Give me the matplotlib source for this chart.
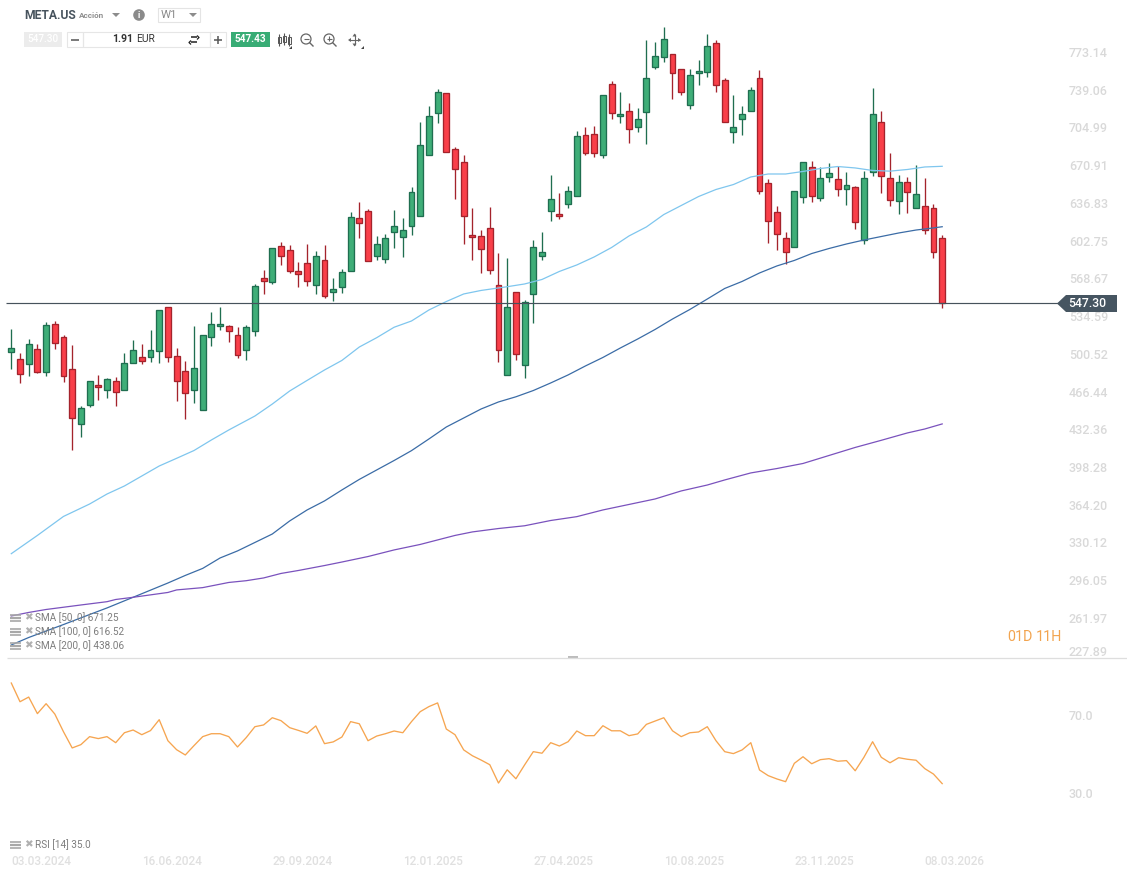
#!/usr/bin/env python3

# ========================================================================
#
# Imports
#
# ========================================================================
import matplotlib as mpl
mpl.use('Agg')
import matplotlib.pyplot as plt
import matplotlib.transforms as mtrans
from matplotlib.patches import Circle, Polygon, Rectangle
import numpy as np

# ========================================================================
#
# Data
#
# ========================================================================
opens = [502.7, 496.4, 491.8, 505.5, 485.1, 528.2, 516.4, 487.3, 437.2, 454.5,
         472.7, 468.1, 476.3, 468.1, 492.7, 498.2, 498.2, 503.6, 543.7, 499.1,
         485.4, 468.1, 449.9, 516.4, 526.4, 526.4, 518.2, 504.5, 521.8, 570.1,
         566.4, 599.2, 595.6, 576.4, 583.7, 563.7, 586.5, 557.3, 561.9, 576.4,
         624.7, 631.1, 590.1, 587.4, 611.9, 607.4, 617.4, 626.5, 682.0, 720.3,
         738.5, 687.5, 675.6, 609.2, 608.3, 615.6, 563.7, 481.8, 557.3, 490.9,
         555.5, 590.1, 631.1, 628.3, 637.4, 644.7, 700.2, 701.1, 682.0, 746.7,
         717.5, 722.1, 707.5, 721.2, 762.1, 771.2, 774.0, 760.3, 727.5, 756.7,
         757.6, 784.0, 750.3, 703.0, 714.8, 722.1, 752.1, 656.5, 630.1, 606.5,
         598.3, 643.8, 671.1, 642.9, 662.0, 660.2, 651.1, 652.9, 604.7, 666.5,
         712.1, 661.1, 640.2, 657.5, 633.8, 635.6, 633.8, 606.5]
closes = [506.4, 483.2, 510.0, 485.1, 527.3, 510.9, 480.9, 442.6, 451.8, 476.3,
          470.8, 478.1, 466.3, 492.7, 504.5, 494.5, 504.5, 540.9, 498.2, 476.3,
          465.4, 488.2, 518.2, 528.2, 528.2, 521.8, 500.0, 525.5, 562.8, 567.3,
          597.4, 590.1, 576.4, 573.7, 567.3, 590.1, 553.7, 560.1, 575.5, 625.6,
          620.1, 585.5, 601.0, 606.5, 617.4, 613.8, 648.4, 691.1, 717.5, 739.4,
          684.8, 669.3, 626.5, 607.4, 596.5, 577.4, 504.5, 543.7, 500.9, 548.2,
          598.3, 593.7, 642.0, 626.5, 649.3, 699.3, 683.8, 683.8, 736.6, 720.3,
          719.4, 705.7, 714.8, 752.1, 772.1, 787.6, 756.7, 739.4, 754.8, 758.5,
          781.2, 745.7, 712.1, 707.5, 719.4, 741.2, 649.3, 621.9, 610.1, 593.7,
          649.3, 675.6, 644.7, 661.1, 665.6, 651.1, 654.7, 621.0, 661.1, 719.4,
          662.9, 641.1, 657.5, 648.3, 646.5, 613.8, 593.7, 547.3]
highs = [523.7, 501.8, 514.5, 510.0, 530.0, 530.9, 518.2, 509.1, 453.6, 476.3,
         481.8, 479.1, 480.0, 501.8, 513.6, 510.0, 522.7, 540.9, 543.7, 506.4,
         494.5, 526.4, 518.2, 539.1, 543.7, 527.3, 525.5, 527.3, 564.6, 577.4,
         597.4, 602.8, 600.1, 584.6, 601.3, 594.7, 600.1, 570.1, 578.3, 630.1,
         639.2, 632.9, 608.3, 610.1, 632.0, 624.7, 652.9, 712.1, 726.6, 742.1,
         738.5, 689.3, 682.0, 633.8, 613.8, 634.7, 592.8, 588.3, 557.3, 550.0,
         604.7, 611.9, 663.8, 647.4, 653.8, 703.9, 707.5, 708.4, 736.6, 749.4,
         739.4, 729.4, 724.8, 786.7, 784.9, 798.5, 774.0, 760.3, 760.3, 768.5,
         792.2, 786.7, 752.1, 736.6, 726.6, 743.9, 759.4, 660.2, 635.6, 612.2,
         649.3, 675.6, 676.6, 671.1, 674.7, 672.0, 666.5, 653.8, 667.4, 743.0,
         722.1, 683.8, 663.8, 662.0, 672.9, 661.1, 637.4, 609.2]
lows = [487.8, 475.0, 481.4, 484.2, 481.4, 506.0, 476.0, 414.1, 425.9, 452.9,
        459.6, 461.4, 454.1, 468.1, 492.7, 492.3, 494.2, 493.3, 494.2, 458.7,
        442.3, 456.8, 449.9, 508.7, 523.3, 512.4, 497.8, 496.0, 517.8, 555.5,
        565.2, 582.5, 575.2, 562.4, 563.3, 556.1, 552.4, 549.7, 557.0, 576.4,
        607.0, 585.5, 587.0, 584.3, 597.9, 589.7, 609.5, 626.5, 682.0, 711.7,
        684.8, 642.5, 601.6, 587.0, 575.2, 574.3, 494.2, 481.8, 496.0, 479.6,
        529.7, 587.0, 622.5, 623.8, 634.3, 644.7, 682.6, 680.8, 679.8, 714.8,
        711.7, 693.5, 703.5, 692.6, 760.8, 767.2, 733.5, 737.2, 724.5, 746.3,
        753.6, 739.9, 712.1, 693.5, 700.8, 722.1, 647.1, 602.5, 596.1, 582.8,
        598.3, 638.9, 639.8, 640.7, 658.0, 645.2, 637.1, 615.2, 601.6, 663.5,
        648.0, 636.2, 628.9, 629.8, 633.8, 610.7, 588.3, 543.3]

sma50_weeks = [0, 3, 6, 9, 11, 13, 15, 17, 19, 21, 23, 25, 28, 30, 32, 34, 36,
               38, 40, 42, 44, 46, 48, 50, 52, 54, 57, 59, 61, 63, 65, 67, 69,
               71, 73, 75, 77, 79, 81, 83, 85, 87, 89, 91, 93, 95, 97, 99, 101,
               103, 105, 107]
sma50 = [319.4, 336.0, 353.3, 364.6, 373.7, 381.0, 390.1, 399.2, 406.2, 413.3,
         422.9, 432.0, 444.7, 455.6, 467.5, 477.1, 486.6, 495.3, 507.5, 516.0,
         525.5, 531.2, 541.2, 548.9, 555.8, 559.0, 562.4, 564.9, 569.0, 576.3,
         582.2, 589.5, 598.1, 608.6, 616.8, 628.1, 636.3, 644.5, 650.9, 655.4,
         662.3, 665.0, 665.0, 667.3, 670.0, 671.8, 670.5, 668.2, 667.6, 669.1,
         671.4, 672.0]

sma100_weeks = [0, 2, 4, 6, 9, 11, 14, 18, 20, 22, 24, 26, 28, 30, 32, 34, 36,
                38, 40, 42, 44, 46, 48, 50, 52, 54, 56, 58, 60, 62, 64, 66, 68,
                70, 72, 74, 76, 78, 80, 82, 84, 86, 88, 90, 92, 94, 96, 98, 100,
                102, 104, 106, 107]
sma100 = [236.3, 243.1, 249.0, 254.9, 264.0, 270.0, 279.7, 292.7, 299.6, 306.0,
          315.5, 321.9, 329.6, 337.3, 349.2, 359.2, 367.4, 377.4, 387.0, 395.6,
          404.2, 413.2, 423.8, 434.7, 442.9, 451.1, 457.5, 462.2, 467.9, 474.8,
          482.1, 490.3, 498.0, 506.6, 514.8, 523.5, 533.0, 541.7, 551.2, 560.8,
          567.2, 574.9, 581.3, 586.3, 592.6, 597.2, 601.3, 604.9, 608.1, 611.3,
          614.0, 615.9, 617.0]

sma200_weeks = [0, 2, 4, 8, 11, 12, 14, 18, 19, 22, 25, 27, 29, 31, 33, 36, 38,
                41, 44, 47, 49, 51, 53, 56, 59, 62, 65, 68, 71, 74, 77, 80, 82,
                85, 88, 91, 94, 97, 100, 103, 105, 107]
sma200 = [262.7, 265.9, 268.6, 272.7, 275.7, 277.7, 279.7, 284.1, 286.4, 288.5,
          293.2, 294.8, 297.3, 301.4, 304.1, 308.6, 311.8, 316.8, 322.8, 327.8,
          331.9, 336.0, 339.2, 342.3, 344.8, 349.6, 353.1, 359.2, 364.2, 369.2,
          376.5, 381.9, 386.5, 392.9, 396.9, 401.5, 408.8, 416.1, 422.6, 429.3,
          432.9, 437.5]

rsi = [86.4, 76.8, 79.2, 70.7, 75.8, 70.5, 61.4, 53.1, 54.8, 58.9,
       57.9, 58.9, 55.8, 60.9, 62.3, 59.9, 62.0, 67.6, 56.8, 52.2,
       49.5, 54.3, 58.9, 60.4, 60.4, 58.9, 53.6, 58.4, 64.0, 64.9,
       68.6, 67.1, 63.5, 62.1, 60.6, 64.4, 55.3, 56.2, 58.7, 66.6,
       65.5, 56.8, 59.2, 60.4, 61.8, 60.9, 66.6, 71.7, 74.3, 76.2,
       62.8, 59.9, 52.1, 49.1, 46.9, 44.5, 35.1, 41.9, 37.3, 44.4,
       51.2, 50.4, 55.8, 54.1, 56.3, 61.8, 59.4, 59.4, 64.5, 61.9,
       61.9, 59.4, 60.3, 65.2, 66.9, 68.6, 61.9, 58.9, 60.9, 61.3,
       64.0, 56.8, 51.2, 50.2, 52.1, 55.8, 41.8, 38.9, 37.2, 35.8,
       45.2, 48.6, 45.0, 47.1, 47.6, 46.3, 46.6, 41.4, 48.3, 56.3,
       48.3, 45.5, 48.1, 47.3, 46.8, 42.5, 39.7, 34.8]

price_ticks = [773.14, 739.06, 704.99, 670.91, 636.83, 602.75, 568.67, 534.59,
               500.52, 466.44, 432.36, 398.28, 364.20, 330.12, 296.05, 261.97,
               227.89]
rsi_ticks = [70.0, 30.0]
date_weeks = [0, 15, 30, 45, 60, 75, 90, 105]
date_labels = ['03.03.2024', '16.06.2024', '29.09.2024', '12.01.2025',
               '27.04.2025', '10.08.2025', '23.11.2025', '08.03.2026']
last_price = 547.30
sma_labels = ['SMA [50, 0] 671.25', 'SMA [100, 0] 616.52', 'SMA [200, 0] 438.06']

# ========================================================================
#
# Some defaults variables
#
# ========================================================================
plt.rcParams['font.family'] = ['Roboto', 'DejaVu Sans']
W, H = 1127, 872
green_fill, green_edge = '#3fae78', '#1f6e50'
red_fill, red_edge = '#f93f49', '#a4232c'
axis_grey = '#d9d9d9'
ui_grey = '#7d7d7d'


# ========================================================================
#
# Function definitions
#
# ========================================================================
def px_axes(left, top, right, bottom):
    """Axes placed by pixel edges measured from the top left corner."""
    return fig.add_axes([left / W, 1 - bottom / H,
                         (right - left) / W, (bottom - top) / H])


def recal(vals):
    """The lists were read at 1.0986 px per unit, the scale labels give 1.1072."""
    return last_price + (np.array(vals) - last_price) * 1.0986 / 1.1072


def ui_line(xs, ys, color='#555555', lw=0.9):
    ov.plot(xs, ys, color=color, lw=lw, solid_capstyle='butt')


def ui_box(x0, y0, x1, y1, fc='white', ec='none', lw=0.8):
    ov.add_patch(Rectangle((x0, y0), x1 - x0, y1 - y0, fc=fc, ec=ec, lw=lw))


def ui_triangle(x, y, color='#8c8c8c'):
    ov.add_patch(Polygon([(x - 4, y - 2), (x + 4, y - 2), (x, y + 2)],
                         fc=color, ec='none'))


def layer_icon(y):
    """Little stacked-lines and cross marks in front of an indicator label."""
    for dy, lw in [(-3, 1.2), (0, 1.6), (3, 1.2)]:
        ui_line([10, 21], [y + dy, y + dy], color='#a8a8a8', lw=lw)
    ov.text(28, y, '\u2716', fontsize=7.5, color='#b0b0b0', ha='center', va='center',
            family=['DejaVu Sans'])


# ========================================================================
#
# Main
#
# ========================================================================
fig = plt.figure(figsize=(W / 100, H / 100), dpi=100, facecolor='white')

# pixels per week
x_px = lambda px: (px - 11.3) / 8.7

# ======================================================================
# Price panel
ax = px_axes(0, 0, 1062, 657)
ax.set_xlim(x_px(0), x_px(1062))
ax.set_ylim(227.85, 821.23)

weeks = np.arange(len(opens))
o = recal(opens)
c = recal(closes)
h = recal(highs)
l = recal(lows)
up = c >= o
for mask, fill, edge in [(up, green_fill, green_edge), (~up, red_fill, red_edge)]:
    ax.vlines(weeks[mask], l[mask], h[mask], color=edge, lw=0.95, zorder=2)
    ax.bar(weeks[mask], np.abs(c - o)[mask], bottom=np.minimum(o, c)[mask],
           width=0.68, color=fill, edgecolor=edge, lw=0.95, zorder=3)

ax.plot(sma50_weeks, recal(sma50), color='#7fc6ee', lw=0.9, zorder=4)
ax.plot(sma100_weeks, recal(sma100), color='#3b6ca6', lw=0.9, zorder=4)
ax.plot(sma200_weeks, recal(sma200), color='#7a52bd', lw=0.9, zorder=4)
ax.hlines(last_price, x_px(6), x_px(1062), color='#46525c', lw=0.85, zorder=5)

ax.yaxis.tick_right()
ax.set_yticks(price_ticks, labels=['%.2f' % t for t in price_ticks])
ax.tick_params(axis='y', length=0, pad=5, labelsize=9.0, labelcolor=axis_grey)
ax.set_xticks([])
# the scale labels sit a little above their real level, the lowest one is
# pushed up to stay inside the panel
lift = mtrans.ScaledTranslation(0, 1.3 / 100, fig.dpi_scale_trans)
lift_last = mtrans.ScaledTranslation(0, 6 / 100, fig.dpi_scale_trans)
for t, label in zip(price_ticks, ax.get_yticklabels()):
    label.set_transform(label.get_transform() + (lift_last if t == price_ticks[-1] else lift))
    label.set_fontweight('medium')
for s in ax.spines.values():
    s.set_visible(False)

# ======================================================================
# RSI panel
ax2 = px_axes(0, 658, 1062, 852)
ax2.set_xlim(x_px(0), x_px(1062))
ax2.set_ylim(-0.26, 99.23)
ax2.plot(weeks, rsi, color='#f6a550', lw=0.95)
ax2.yaxis.tick_right()
ax2.set_yticks(rsi_ticks, labels=['%.1f' % t for t in rsi_ticks])
ax2.tick_params(axis='y', length=0, pad=5, labelsize=9.0, labelcolor=axis_grey)
ax2.set_xticks(date_weeks, labels=date_labels, ha='left')
ax2.tick_params(axis='x', length=0, pad=2, labelsize=8.5, labelcolor='#e0e0e0')
for label in ax2.get_xticklabels() + ax2.get_yticklabels():
    label.set_fontweight('medium')
for s in ax2.spines.values():
    s.set_visible(False)

# ======================================================================
# Toolbar, legends and the rest of the screen furniture
ov = fig.add_axes([0, 0, 1, 1], zorder=10)
ov.set_xlim(0, W)
ov.set_ylim(H, 0)
ov.axis('off')
ov.patch.set_alpha(0)

ui_line([7, W], [657.5, 657.5], color='#dedede', lw=0.9)
ui_box(568, 656, 578, 659, fc='#bcbcbc')

ov.text(24, 15.5, 'META.US', fontsize=8.7, fontweight='bold', color='#47535d', va='center')
ov.text(79, 16, 'Acción', fontsize=5.9, fontweight='bold', color='#8f8f8f', va='center')
ui_triangle(116, 15)
ov.add_patch(Circle((139, 15), 5.8, fc='#8a8a8a', ec='none'))
ov.text(139, 15, 'i', fontsize=6.5, fontweight='bold', color='white', ha='center', va='center')
ui_box(158, 8, 200, 22, ec='#e4e4e4')
ov.text(169, 15.5, 'W1', fontsize=8.2, color='#8a8a8a', ha='center', va='center')
ui_triangle(193, 15)

ui_box(24, 32, 62, 47, fc='#ececec')
ov.text(43, 39.5, '547.30', fontsize=7.2, fontweight='medium', color='white', ha='center', va='center')
ui_box(67, 32, 226, 47, ec='#e6e6e6')
ui_line([83, 83], [32, 47], color='#e6e6e6')
ui_line([210, 210], [32, 47], color='#e6e6e6')
ui_line([71, 79], [40, 40], color='#555555', lw=1.1)
ui_line([214, 222], [40, 40], color='#555555', lw=1.1)
ui_line([218, 218], [36, 44], color='#555555', lw=1.1)
ov.text(133.5, 39.5, '1.91', fontsize=7.6, fontweight='bold', color='#333333', ha='right', va='center')
ov.text(136, 39.5, 'EUR', fontsize=7.4, color='#333333', va='center')
for yy in [37.5, 42.5]:
    ui_line([191, 197], [yy, yy], color='#222222', lw=1.1)
ui_line([197, 199, 197], [35.5, 37.5, 39.5], color='#222222', lw=0.9)
ui_line([191, 189, 191], [40.5, 42.5, 44.5], color='#222222', lw=0.9)
ui_box(231, 32, 270, 47, fc='#38ac75')
ov.text(250.5, 39.5, '547.43', fontsize=7.2, fontweight='bold', color='white', ha='center', va='center')

# candle, zoom and move icons
for xx, y0, y1, b0, b1 in [(279, 34, 46, 37, 43), (284, 33, 45, 36, 42), (289, 34, 46, 37, 44)]:
    ui_line([xx, xx], [y0, y1], color='#555555', lw=0.8)
    ui_box(xx - 1.5, b0, xx + 1.5, b1, fc='white', ec='#555555', lw=0.7)
for cx, plus in [(306, False), (329, True)]:
    ov.add_patch(Circle((cx, 39), 5, fc='none', ec='#666666', lw=0.9))
    ui_line([cx + 3.5, cx + 7.5], [42.5, 46.5], color='#666666', lw=1.0)
    ui_line([cx - 2.5, cx + 2.5], [39, 39], color='#666666', lw=0.8)
    if plus:
        ui_line([cx, cx], [36.5, 41.5], color='#666666', lw=0.8)
ui_line([349, 360], [40, 40], color='#666666', lw=0.8)
ui_line([354.5, 354.5], [34.5, 45.5], color='#666666', lw=0.8)
for pts in [[(348, 40), (351, 38), (351, 42)], [(361, 40), (358, 38), (358, 42)],
            [(354.5, 33.5), (352.5, 36.5), (356.5, 36.5)],
            [(354.5, 46.5), (352.5, 43.5), (356.5, 43.5)]]:
    ov.add_patch(Polygon(pts, fc='#666666', ec='none'))
for x0, y0 in [(292, 49), (364, 49)]:
    ov.add_patch(Polygon([(x0 - 3, y0), (x0, y0), (x0, y0 - 3)], fc='#444444', ec='none'))

# indicator captions
for yy, text in zip([618, 632, 646], sma_labels):
    layer_icon(yy - 0.5)
    ov.text(35, yy, text, fontsize=7.2, color=ui_grey, va='center')
layer_icon(844.5)
ov.text(35, 845, 'RSI [14] 35.0', fontsize=7.2, color=ui_grey, va='center')

ov.text(1007, 636.5, '01D', fontsize=10.3, color='#f2a44f', va='center')
ov.text(1036, 636.5, '11H', fontsize=10.3, color='#f2a44f', va='center')

# last price flag
ov.add_patch(Polygon([(1057, 303.5), (1066, 295), (1117, 295), (1117, 312), (1066, 312)],
                     fc='#465561', ec='none'))
ov.text(1087.5, 303.5, '%.2f' % last_price, fontsize=8.8, fontweight='medium', color='white',
        ha='center', va='center')

plt.savefig('out.png', dpi=100)
